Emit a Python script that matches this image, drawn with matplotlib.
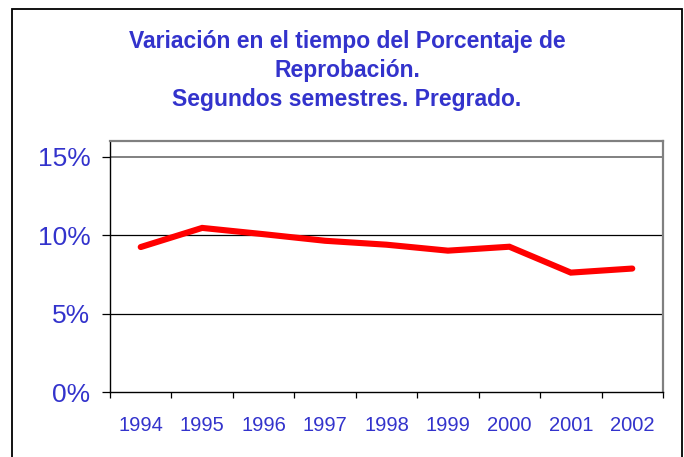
import matplotlib
matplotlib.use("Agg")
import matplotlib.pyplot as plt
from matplotlib.patches import Rectangle
import numpy as np

years = ["1994", "1995", "1996", "1997", "1998", "1999", "2000", "2001", "2002"]
reprobacion = [9.24, 10.46, 10.06, 9.64, 9.39, 9.01, 9.26, 7.61, 7.87]
yticks = [0, 5, 10, 15]
ytick_labels = ["0%", "5%", "10%", "15%"]
title = "Variación en el tiempo del Porcentaje de\nReprobación.\nSegundos semestres. Pregrado."

blue = "#3333CC"
plt.rcParams["font.family"] = ["Liberation Sans", "DejaVu Sans"]

W, H = 684, 457
fig = plt.figure(figsize=(W / 100, H / 100), dpi=100)
fig.patch.set_facecolor("white")

# outer chart border
fig.patches.append(Rectangle((12 / W, -0.05), (682 - 12) / W, 1.05 - 9 / H,
                             transform=fig.transFigure, fill=False,
                             edgecolor="black", linewidth=1.3))

ax = fig.add_axes([110 / W, 1 - 392 / H, (663 - 110) / W, (392 - 141) / H])
x = np.arange(len(years))
ax.plot(x, reprobacion, color="#FF0000", linewidth=4.4, solid_capstyle="round",
        solid_joinstyle="miter", zorder=3)

ax.set_xlim(-0.5, len(years) - 0.5)
ax.set_ylim(0, 16)

# gridlines
for yv in yticks[1:]:
    if yv == 15:
        ax.axhline(yv, color="#808080", linewidth=1.4, zorder=1)
    else:
        ax.axhline(yv, color="black", linewidth=0.9, zorder=1)

ax.set_yticks(yticks)
ax.set_yticklabels(ytick_labels, fontsize=19, color=blue)
ax.tick_params(axis="y", direction="out", length=6, width=0.9, color="black", pad=8)

ax.set_xticks(x)
ax.set_xticklabels(years, fontsize=14.5, color=blue)
ax.set_xticks(np.arange(len(years) + 1) - 0.5, minor=True)
ax.tick_params(axis="x", which="major", length=0, pad=17)
ax.tick_params(axis="x", which="minor", direction="out", length=4, width=0.9, color="black")

for s in ["left", "bottom"]:
    ax.spines[s].set_color("black")
    ax.spines[s].set_linewidth(1.0)
for s in ["top", "right"]:
    ax.spines[s].set_color("#808080")
    ax.spines[s].set_linewidth(1.6)

fig.text(347 / W, 1 - 30 / H, title, ha="center", va="top", fontsize=16.5,
         fontweight="bold", color=blue, linespacing=1.34)

fig.savefig("out.png", dpi=100, facecolor="white")
